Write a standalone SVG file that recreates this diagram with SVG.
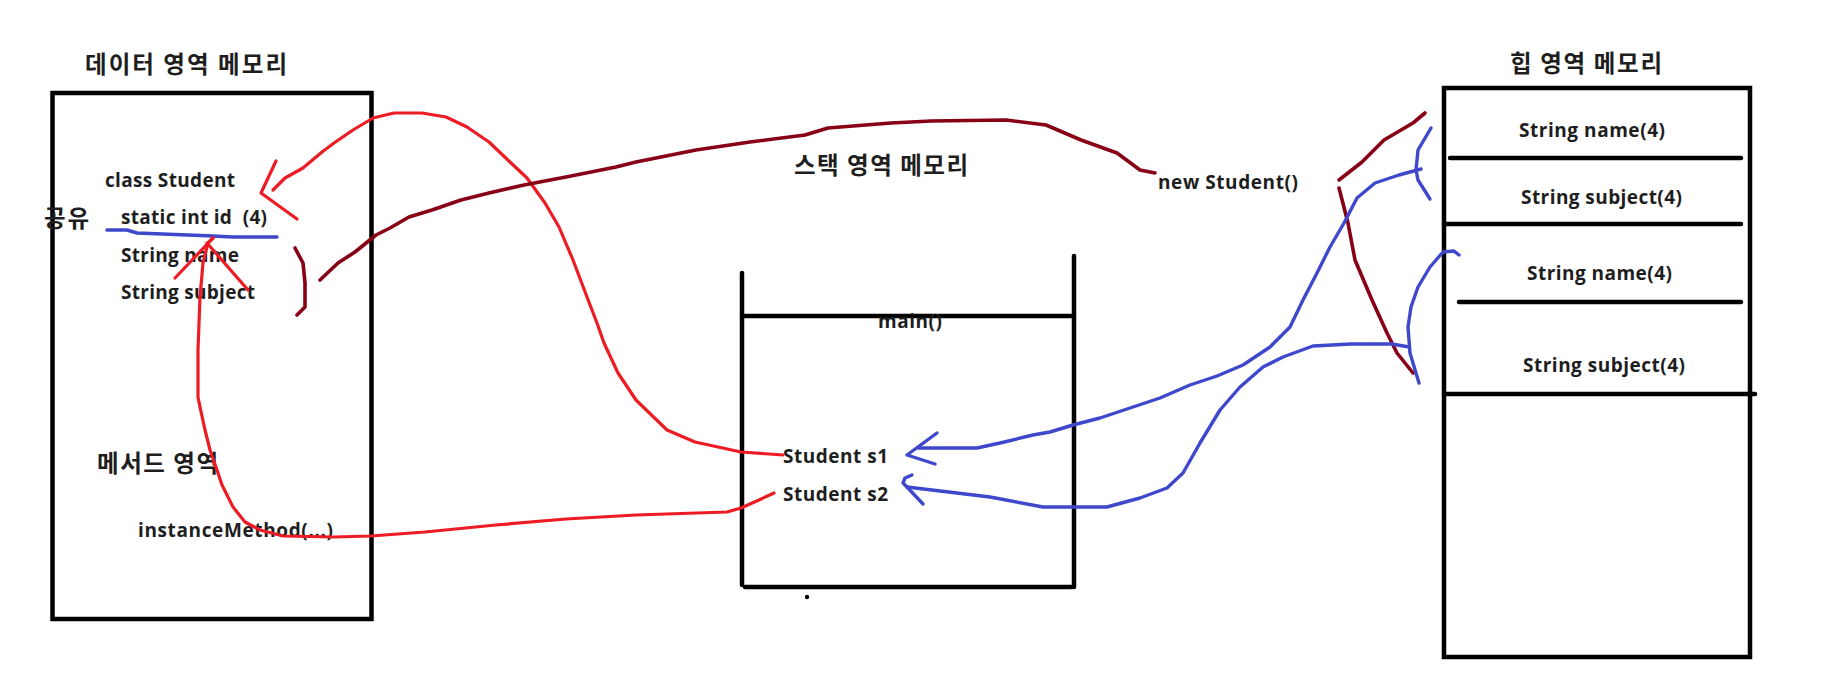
<svg xmlns="http://www.w3.org/2000/svg" width="1835" height="691" viewBox="0 0 1835 691">
<defs>
<style>
.t{font-family:"Open Sans","Noto Sans CJK KR",sans-serif;font-weight:bold;font-size:19px;fill:#1e1e1e;white-space:pre}
.k{font-family:"Noto Sans CJK KR","Open Sans",sans-serif;font-weight:bold;font-size:23.5px;fill:#1e1e1e;white-space:pre}
.box{fill:none;stroke:#000;stroke-width:4.5}
.ln{stroke:#000;stroke-width:4.5;stroke-linecap:round;fill:none}
.red{fill:none;stroke:#ED1C24;stroke-width:3.2;stroke-linejoin:round;stroke-linecap:round}
.dred{fill:none;stroke:#880015;stroke-width:3.6;stroke-linejoin:round;stroke-linecap:round}
.blue{fill:none;stroke:#3F48CC;stroke-width:3.4;stroke-linejoin:round;stroke-linecap:round}
</style>
</defs>
<rect width="1835" height="691" fill="#fff"/>

<g id="data-area">
<text class="k" x="85" y="73" textLength="202">데이터 영역 메모리</text>
<rect class="box" x="52.5" y="93" width="319" height="526"/>
<text class="t" x="105" y="187" textLength="130">class Student</text>
<text class="k" x="44" y="227" textLength="45">공유</text>
<text class="t" x="121" y="224" textLength="146">static int id  (4)</text>
<text class="t" x="121" y="262" textLength="118">String name</text>
<text class="t" x="121" y="299" textLength="134">String subject</text>
<text class="k" x="97" y="472" textLength="121">메서드 영역</text>
<text class="t" x="138" y="537" textLength="195">instanceMethod(...)</text>
</g>

<g id="stack-area">
<text class="k" x="794" y="174" textLength="174">스택 영역 메모리</text>
<line class="ln" x1="742" y1="273" x2="742" y2="585"/>
<line class="ln" x1="1074" y1="256" x2="1074" y2="587"/>
<line class="ln" x1="742" y1="316" x2="1074" y2="316"/>
<line class="ln" x1="745" y1="587" x2="1072" y2="587"/>
<circle cx="807" cy="597" r="2.2" fill="#000"/>
<text class="t" x="878" y="328" textLength="64">main()</text>
<text class="t" x="783" y="463" textLength="105">Student s1</text>
<text class="t" x="783" y="501" textLength="105">Student s2</text>
</g>

<g id="new-student">
<text class="t" x="1158" y="189" textLength="140">new Student()</text>
</g>

<g id="heap-area">
<text class="k" x="1510" y="72" textLength="152">힙 영역 메모리</text>
<rect class="box" x="1444" y="88" width="306" height="569"/>
<line class="ln" x1="1450" y1="158" x2="1741" y2="158"/>
<line class="ln" x1="1444" y1="224" x2="1741" y2="224"/>
<line class="ln" x1="1459" y1="302" x2="1741" y2="302"/>
<line class="ln" x1="1444" y1="394" x2="1755" y2="394"/>
<text class="t" x="1519" y="137" textLength="146">String name(4)</text>
<text class="t" x="1521" y="204" textLength="161">String subject(4)</text>
<text class="t" x="1527" y="280" textLength="145">String name(4)</text>
<text class="t" x="1523" y="372" textLength="162">String subject(4)</text>
</g>

<g id="connectors">
<polyline class="blue" points="107,230 127,230 137,233 213,236 233,237 277,237"/>
<polyline class="red" points="783,455 741,452 695,442 667,430 636,400 618,373 604,343 597,323 587,297 573,260 559,227 545,203 527,178 510,162 489,142 467,127 446,117 422,113 394,113 373,118 353,130 334,143 322,152 303,168 285,178 273,190"/>
<polyline class="red" points="276,161 261,193 297,219"/>
<polyline class="red" points="774,493 759,500 741,508 727,512 636,515 566,519 496,525 425,532 371,536 334,537 283,536 260,530 245,522 233,507 228,497 222,485 217,470 210,450 205,430 200,407 198,397 198,350 200,297 203,263 208,243 213,238"/>
<polyline class="red" points="175,278 213,238"/>
<polyline class="red" points="207,243 248,290"/>
<polyline class="dred" points="295,248 303,263 305,283 305,307 297,315"/>
<polyline class="dred" points="320,280 338,263 355,252 376,235 390,228 409,217 432,210 461,200 489,193 524,185 566,177 616,167 636,162 696,150 750,142 805,135 828,128 891,123 931,121 1006,120 1046,125 1081,140 1117,153 1140,170 1155,173"/>
<polyline class="dred" points="1339,180 1362,162 1384,140 1413,123 1425,113"/>
<polyline class="dred" points="1339,188 1348,223 1355,260 1372,300 1387,333 1397,353 1413,373"/>
<polyline class="blue" points="1431,128 1418,150 1416,170 1418,180 1430,199"/>
<polyline class="blue" points="1421,169 1399,175 1375,183 1357,198 1344,223 1330,247 1317,273 1303,300 1290,327 1270,347 1243,365 1217,376 1190,385 1160,398 1133,407 1100,418 1073,425 1050,432 1033,435 1000,443 977,448 918,448"/>
<polyline class="blue" points="937,433 907,455 935,464"/>
<polyline class="blue" points="1459,255 1454,251 1443,252 1430,267 1418,287 1411,307 1408,327 1410,353 1419,383"/>
<polyline class="blue" points="1409,347 1392,344 1351,344 1313,346 1283,357 1263,367 1240,387 1220,410 1200,443 1183,473 1167,488 1140,498 1107,507 1043,507 990,497 907,487"/>
<polyline class="blue" points="912,475 905,478 903,483 907,487 923,504"/>
</g>
</svg>
